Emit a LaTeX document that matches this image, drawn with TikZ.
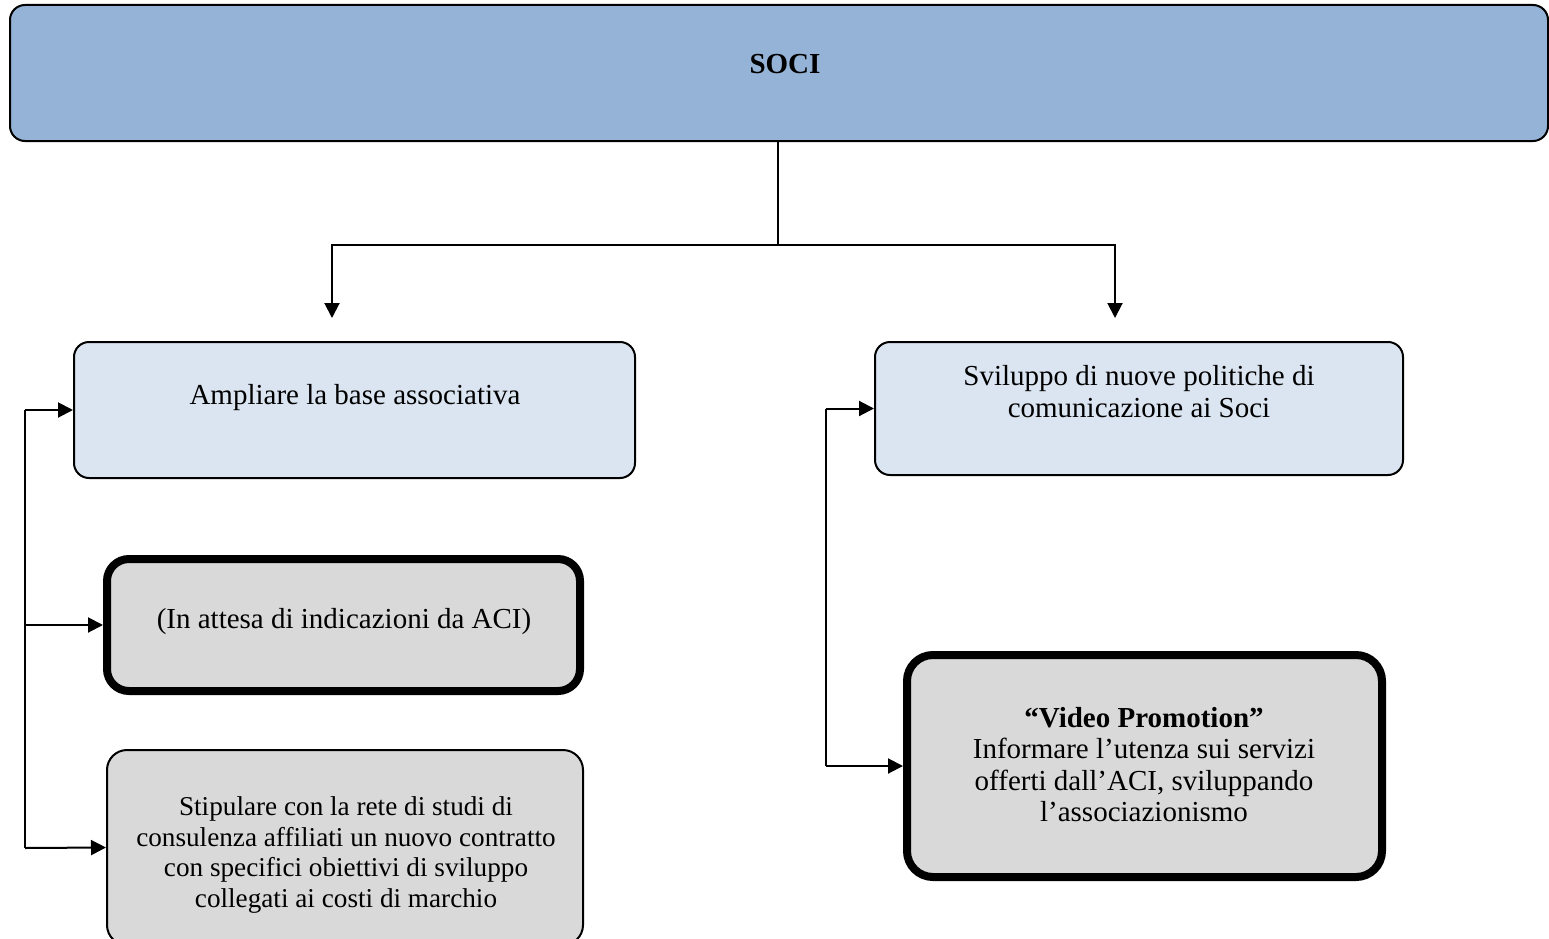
\documentclass[tikz,border=0pt]{standalone}
\usepackage{fontspec}
\setmainfont{Liberation Serif}
\usetikzlibrary{arrows.meta}
\definecolor{headblue}{HTML}{95B3D7}
\definecolor{paleblue}{HTML}{DBE5F1}
\definecolor{panelgray}{HTML}{D9D9D9}
\tikzset{
  box/.style={draw=black, line width=2pt, rounded corners=15pt, inner sep=0pt},
  heavybox/.style={draw=black, line width=8pt, rounded corners=22pt, inner sep=0pt, fill=panelgray},
  txt/.style={align=center, inner sep=0pt, font=\fontsize{29}{31.5}\selectfont},
  link/.style={draw=black, line width=2pt},
  arr/.style={link, -{Triangle[length=15pt,width=15pt]}}
}
\begin{document}
\begin{tikzpicture}[x=1pt,y=-1pt]
\useasboundingbox (0,0) rectangle (1549,939);

% header
\node[box, fill=headblue, minimum width=1538pt, minimum height=136pt] (top) at (779,73) {};
\node[txt, font=\fontsize{29}{31.5}\selectfont\bfseries] (topText) at (785,64) {SOCI};

% left column
\node[box, fill=paleblue, minimum width=561pt, minimum height=136pt] (ampl) at (354.5,410) {};
\node[txt] (amplText) at (355,398) {Ampliare la base associativa};

\node[heavybox, minimum width=473pt, minimum height=132pt] (attesa) at (343.5,625) {};
\node[txt] (attesaText) at (344,622) {(In attesa di indicazioni da ACI)};

\node[box, fill=panelgray, rounded corners=20pt, minimum width=476pt, minimum height=195pt] (stip) at (345,847.5) {};
\node[txt, font=\fontsize{27.2}{30.5}\selectfont] (stipText) at (346,855) {Stipulare con la rete di studi di\\consulenza affiliati un nuovo contratto\\con specifici obiettivi di sviluppo\\collegati ai costi di marchio};

% right column
\node[box, fill=paleblue, minimum width=528pt, minimum height=133pt] (svil) at (1139,408.5) {};
\node[txt] (svilText) at (1139,391.5) {Sviluppo di nuove politiche di\\comunicazione ai Soci};

\node[heavybox, rounded corners=26pt, minimum width=475pt, minimum height=222pt] (video) at (1144.5,766) {};
\node[txt] (videoText) at (1144,764.5) {\textbf{“Video Promotion”}\\Informare l’utenza sui servizi\\offerti dall’ACI, sviluppando\\l’associazionismo};

% branching from the header
\coordinate (fork) at (778,245);
\coordinate (leftTip) at (332,318);
\coordinate (rightTip) at (1115,318);
\draw[link] (top.south -| fork) -- (fork);
\draw[arr] (fork) -| (leftTip);
\draw[arr] (fork) -| (rightTip);

% left bracket
\coordinate (lTop) at (25,410);
\coordinate (lBot) at (25,848);
\draw[link] (lTop) -- (lBot);
\draw[arr] (lTop) -- (ampl.west);
\draw[arr] (lTop |- attesa.west) -- (attesa.west);
\draw[arr] (lBot) -- (stip.west);

% right bracket
\coordinate (rTop) at (826,408.5);
\coordinate (rBot) at (826,766);
\draw[link] (rTop) -- (rBot);
\draw[arr] (rTop) -- (svil.west);
\draw[arr] (rBot) -- (video.west);
\end{tikzpicture}
\end{document}
